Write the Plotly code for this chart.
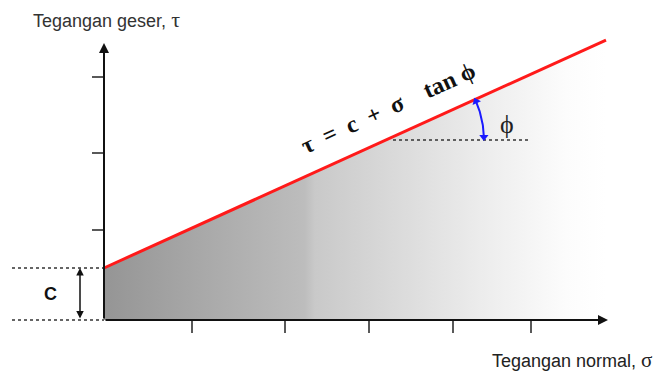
import numpy as np
import plotly.graph_objects as go

# ---- data (axis units: 1 unit = 100 px in the reference picture) ----
c_value = 0.52            # cohesion intercept
tan_phi = 0.454           # slope of the failure envelope
x_end = 5.02              # end of envelope line
x_axis_end = 5.04
y_axis_end = 2.77
x_ticks = [0.88, 1.81, 2.65, 3.49, 4.27]
y_ticks = [0.90, 1.67, 2.43]
phi_ref_y = 1.80          # horizontal reference line for the angle
phi_ref_x = [2.89, 4.26]
title_y = "Tegangan geser, <span style='font-family:Liberation Serif;font-size:22px'>τ</span>"
title_x = "Tegangan normal, <span style='font-family:Liberation Serif;font-size:21px'>σ</span>"
formula = "τ  =  c  +  σ    tan ϕ"

fig = go.Figure()

# gradient fill under the envelope
xf = [0, 0, x_end, x_end, 0]
yf = [0, c_value, c_value + x_end * tan_phi, 0, 0]
fig.add_trace(go.Scatter(
    x=xf, y=yf, fill="toself", mode="lines", line=dict(width=0),
    fillgradient=dict(type="horizontal",
                      colorscale=[[0, "#959595"], [0.40, "#bdbdbd"], [0.42, "#c9c9c9"],
                                  [0.75, "#ececec"], [0.92, "#fcfcfc"], [1, "#ffffff"]]),
    hoverinfo="skip", showlegend=False))

# dotted level lines for c
for yv in [0, c_value]:
    fig.add_trace(go.Scatter(x=[-0.92, 0], y=[yv, yv], mode="lines",
                             line=dict(color="#333333", width=1.5, dash="dot"),
                             hoverinfo="skip", showlegend=False))

# axis ticks
for xv in x_ticks:
    fig.add_trace(go.Scatter(x=[xv, xv], y=[0, -0.13], mode="lines",
                             line=dict(color="#222222", width=1.5),
                             hoverinfo="skip", showlegend=False))
for yv in y_ticks:
    fig.add_trace(go.Scatter(x=[-0.12, 0], y=[yv, yv], mode="lines",
                             line=dict(color="#222222", width=1.5),
                             hoverinfo="skip", showlegend=False))

# envelope line
fig.add_trace(go.Scatter(x=[0, x_end], y=[c_value, c_value + x_end * tan_phi], mode="lines",
                         line=dict(color="#ff1a1a", width=3), hoverinfo="skip", showlegend=False))

# phi reference line
fig.add_trace(go.Scatter(x=phi_ref_x, y=[phi_ref_y, phi_ref_y], mode="lines",
                         line=dict(color="#333333", width=1.5, dash="dot"),
                         hoverinfo="skip", showlegend=False))

# angle arc
x0_int = (phi_ref_y - c_value) / tan_phi
r = 0.98
ang = np.arctan(tan_phi)
th = np.linspace(0.03, ang - 0.02, 30)
fig.add_trace(go.Scatter(x=x0_int + r * np.cos(th), y=phi_ref_y + r * np.sin(th), mode="lines",
                         line=dict(color="#1a1aff", width=2), hoverinfo="skip", showlegend=False))
fig.add_trace(go.Scatter(
    x=[x0_int + r * np.cos(0.03), x0_int + r * np.cos(ang - 0.02)],
    y=[phi_ref_y + r * np.sin(0.03), phi_ref_y + r * np.sin(ang - 0.02)],
    mode="markers",
    marker=dict(symbol=["triangle-down", "triangle-up"], angle=[0, -np.degrees(ang)],
                size=8, color="#1a1aff"),
    hoverinfo="skip", showlegend=False))

# axes with arrows
fig.add_annotation(x=x_axis_end, y=0, ax=0, ay=0, xref="x", yref="y", axref="x", ayref="y",
                   showarrow=True, arrowhead=2, arrowsize=1, arrowwidth=2, arrowcolor="#111111", text="")
fig.add_annotation(x=0, y=y_axis_end, ax=0, ay=0, xref="x", yref="y", axref="x", ayref="y",
                   showarrow=True, arrowhead=2, arrowsize=1, arrowwidth=2, arrowcolor="#111111", text="")
# double arrow for c
fig.add_annotation(x=-0.24, y=c_value, ax=-0.24, ay=0, xref="x", yref="y", axref="x", ayref="y",
                   showarrow=True, arrowhead=2, startarrowhead=2, arrowside="end+start",
                   arrowsize=1, arrowwidth=1.5, arrowcolor="#111111", text="")

# texts
fig.add_annotation(x=-0.54, y=c_value / 2, text="<b>C</b>", showarrow=False,
                   font=dict(family="Liberation Sans", size=18, color="#111111"))
fig.add_annotation(x=2.84, y=2.12, text="<b>" + formula + "</b>", showarrow=False,
                   textangle=-np.degrees(ang),
                   font=dict(family="Liberation Serif", size=24, color="#111111"))
fig.add_annotation(x=4.03, y=1.96, text="ϕ", showarrow=False,
                   font=dict(family="Liberation Serif", size=26, color="#222222"))
fig.add_annotation(x=-0.73, y=3.01, text=title_y, showarrow=False, xanchor="left",
                   font=dict(family="Liberation Sans", size=18, color="#333333"))
fig.add_annotation(x=5.50, y=-0.40, text=title_x, showarrow=False, xanchor="right",
                   font=dict(family="Liberation Sans", size=18, color="#222222"))

# page body has an 8 px margin: the plot is shifted accordingly
fig.update_layout(
    width=658, height=365, autosize=False,
    margin=dict(l=0, r=0, t=0, b=0),
    paper_bgcolor="white", plot_bgcolor="white",
    xaxis=dict(range=[-0.96, 5.62], visible=False, fixedrange=True),
    yaxis=dict(range=[-0.53, 3.12], visible=False, fixedrange=True),
    showlegend=False,
)
fig.write_html("out.html")
